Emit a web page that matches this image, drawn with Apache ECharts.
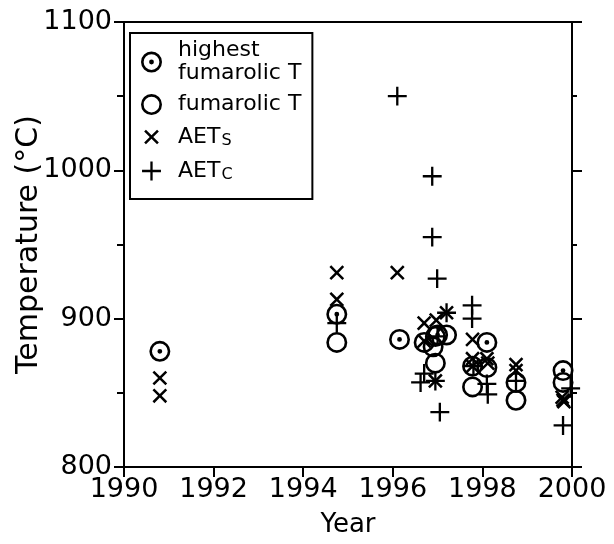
<!DOCTYPE html>
<html>
<head>
<meta charset="utf-8">
<script src="https://cdn.jsdelivr.net/npm/echarts@6/dist/echarts.min.js"></script>
<style>
  html, body { margin: 0; padding: 0; background: #fff; }
  #chart { width: 614px; height: 544px; }
</style>
</head>
<body>
<div id="chart"></div>
<script>
// highest fumarolic T
const hiYear = [1990.8, 1994.75, 1996.15, 1997.0, 1997.78, 1998.1, 1999.8];
const hiTemp = [878, 903, 886, 889, 868, 884, 865];
// fumarolic T
const fumYear = [1994.75, 1996.7, 1996.95, 1997.2, 1996.9, 1996.95, 1997.78, 1998.1, 1998.75, 1998.75, 1999.8];
const fumTemp = [884, 884, 888, 889, 881, 870, 854, 867, 857, 845, 857];
// AET_S
const sYear = [1990.8, 1990.8, 1994.75, 1994.75, 1996.1, 1996.7, 1996.97, 1997.2, 1996.7, 1996.95,
  1997.78, 1997.78, 1997.78, 1998.1, 1998.12, 1998.75, 1998.75, 1999.78, 1999.8, 1999.82];
const sTemp = [860, 848, 931, 913, 931, 897, 899, 904, 885, 858,
  886, 873, 868, 873, 870, 869, 865, 847, 845, 844];
// AET_C
const cYear = [1994.75, 1996.1, 1996.88, 1996.88, 1996.99, 1997.2, 1997.0, 1996.62, 1996.7, 1996.95,
  1997.05, 1997.77, 1997.77, 1997.8, 1998.1, 1998.12, 1998.75, 1999.97, 1999.8];
const cTemp = [897, 1050, 996, 955, 927, 904, 888, 857, 863, 858,
  837, 909, 900, 868, 856, 849, 858, 853, 828];

const xTicks = [1990, 2000, 2];
const yTicks = [800, 1100, 100];

const box = 'M0,0 L0,0 M20,20 L20,20 ';
const ring = 'M0,10 A10,10 0 1 0 20,10 A10,10 0 1 0 0,10 Z M2.5,10 A7.5,7.5 0 1 1 17.5,10 A7.5,7.5 0 1 1 2.5,10 Z ';
const dotSym = 'path://' + box + ring + 'M7.7,10 A2.3,2.3 0 1 0 12.3,10 A2.3,2.3 0 1 0 7.7,10 Z';
const ringSym = 'path://' + box + ring;
const crossSym = 'path://' + box + 'M3,4.7 L4.7,3 L10,8.3 L15.3,3 L17,4.7 L11.7,10 L17,15.3 L15.3,17 L10,11.7 L4.7,17 L3,15.3 L8.3,10 Z';
const plusSym = 'path://' + box + 'M8.9,1 H11.1 V8.9 H19 V11.1 H11.1 V19 H8.9 V11.1 H1 V8.9 H8.9 Z';

const font = 'DejaVu Sans';
const zip = (a, b) => a.map((v, i) => [v, b[i]]);

const chart = echarts.init(document.getElementById('chart'));

function scatter(name, sym, xs, ys) {
  return {
    name: name,
    type: 'scatter',
    symbol: sym,
    symbolSize: 21,
    itemStyle: { color: '#000', opacity: 1 },
    emphasis: { disabled: true },
    data: zip(xs, ys),
  };
}

const names = ['highest\nfumarolic T', 'fumarolic T', 'AETs', 'AETc'];

chart.setOption({
  animation: false,
  backgroundColor: '#fff',
  grid: { left: 124, right: 42, top: 22, bottom: 77, containLabel: false, outerBoundsMode: 'none' },
  legend: {
    orient: 'vertical',
    left: 130,
    top: 33,
    padding: [6, 11, 15, 11],
    itemGap: 8,
    itemWidth: 21,
    itemHeight: 21,
    itemTextGap: 5,
    borderColor: '#000',
    borderWidth: 2,
    data: [
      { name: names[0], icon: dotSym },
      { name: names[1], icon: ringSym },
      { name: names[2], icon: crossSym },
      { name: names[3], icon: plusSym },
    ],
    formatter: (name) => {
      if (name === 'AETs') return '{b|AET}{s|S}';
      if (name === 'AETc') return '{b|AET}{s|C}';
      return name;
    },
    textStyle: {
      fontFamily: font,
      fontSize: 22,
      lineHeight: 23,
      color: '#000',
      padding: [0, 0, 0, 11],
      rich: {
        b: { fontFamily: font, fontSize: 22, lineHeight: 26, color: '#000' },
        s: { fontFamily: font, fontSize: 16, lineHeight: 26, color: '#000', padding: [8, 0, 0, 1] },
      },
    },
  },
  xAxis: [
    {
      type: 'value',
      min: xTicks[0],
      max: xTicks[1],
      interval: xTicks[2],
      name: 'Year',
      nameLocation: 'middle',
      nameGap: 45,
      nameMoveOverlap: false,
      nameTextStyle: { fontFamily: font, fontSize: 26, color: '#000' },
      axisLine: { lineStyle: { color: '#000', width: 2 } },
      axisTick: { length: 10, lineStyle: { color: '#000', width: 2 } },
      axisLabel: { fontFamily: font, fontSize: 27, color: '#000', margin: 9, formatter: (v) => String(v) },
      splitLine: { show: false },
    },
    {
      type: 'value',
      position: 'top',
      min: xTicks[0],
      max: xTicks[1],
      interval: xTicks[2],
      axisLine: { show: true, lineStyle: { color: '#000', width: 2 } },
      axisTick: { show: false },
      axisLabel: { show: false },
      splitLine: { show: false },
    },
  ],
  yAxis: [
    {
      type: 'value',
      min: yTicks[0],
      max: yTicks[1],
      interval: yTicks[2],
      name: 'Temperature (°C)',
      nameLocation: 'middle',
      nameGap: 80,
      nameMoveOverlap: false,
      nameTextStyle: { fontFamily: font, fontSize: 30, color: '#000' },
      axisLine: { show: true, lineStyle: { color: '#000', width: 2 } },
      axisTick: { length: 10, lineStyle: { color: '#000', width: 2 } },
      minorTick: { show: true, splitNumber: 2, length: 7, lineStyle: { color: '#000', width: 2 } },
      axisLabel: { fontFamily: font, fontSize: 27, color: '#000', margin: 12, formatter: (v) => String(v) },
      splitLine: { show: false },
    },
    {
      type: 'value',
      position: 'right',
      min: yTicks[0],
      max: yTicks[1],
      interval: yTicks[2],
      axisLine: { show: true, lineStyle: { color: '#000', width: 2 } },
      axisTick: { length: 10, lineStyle: { color: '#000', width: 2 } },
      minorTick: { show: true, splitNumber: 2, length: 5, lineStyle: { color: '#000', width: 2 } },
      axisLabel: { show: false },
      splitLine: { show: false },
    },
  ],
  series: [
    scatter(names[0], dotSym, hiYear, hiTemp),
    scatter(names[1], ringSym, fumYear, fumTemp),
    scatter(names[2], crossSym, sYear, sTemp),
    scatter(names[3], plusSym, cYear, cTemp),
  ],
});
</script>
</body>
</html>
